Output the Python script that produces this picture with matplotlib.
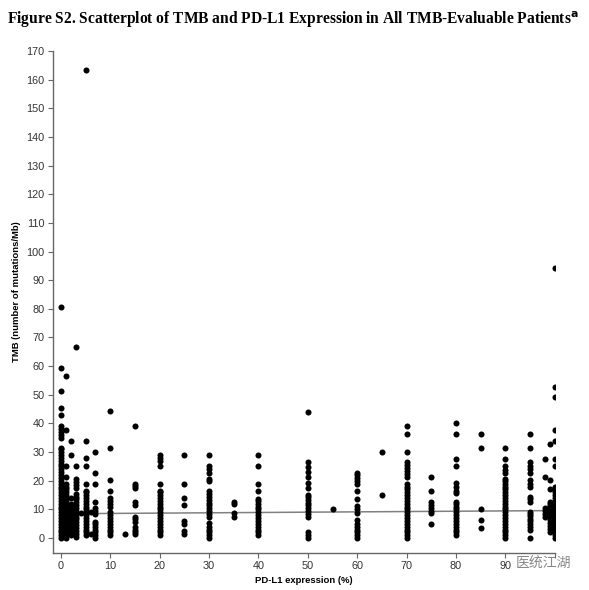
import matplotlib.pyplot as plt

# PD-L1 expression levels (%) that have patients
pdl1_levels = [0, 1, 2, 3, 4, 5, 6, 7, 10, 13, 15, 20, 25, 30, 35, 40, 50, 55,
               60, 65, 70, 75, 80, 85, 90, 95, 98, 99, 100]

# TMB values (mutations/Mb) read per PD-L1 level
tmb_values = [
    # 0
    [0, 1, 2, 3, 4, 5, 6, 7, 8, 9, 10, 11, 12, 13, 14, 15, 16, 17, 18, 19, 20,
     21, 22, 23, 24, 25, 26, 27, 28, 29, 30, 31, 31.6, 35, 36, 37, 38, 39,
     42.8, 45.3, 51.5, 59.2, 80.5],
    # 1
    [0, 1, 2, 3, 4, 5, 6, 7, 8, 9, 10, 11, 12, 13, 14, 15, 16, 17, 18, 19,
     21.3, 25.2, 37.7, 56.7],
    # 2
    [1, 2, 3, 4, 5, 6, 7, 8, 9, 10, 11, 12, 14, 29, 34],
    # 3
    [0.5, 1.5, 2.5, 3.5, 4.5, 5.5, 6.5, 7.5, 8.5, 9.5, 10.5, 11.5, 12.5, 13.5,
     14.5, 15.5, 17.5, 18.5, 19.5, 20.5, 25.3, 66.8],
    # 4
    [8.8],
    # 5
    [1, 2, 3, 4, 5, 6, 7, 8, 9, 10, 11, 12, 13, 14, 15, 16, 16.5, 19, 25.2,
     27.8, 34, 163.5],
    # 6
    [1.5, 9],
    # 7
    [0, 1, 2, 3, 4, 5, 5.5, 8.5, 9.5, 10.5, 12.7, 19, 22.7, 30.2],
    # 10
    [1, 2, 3, 4, 5, 6, 7, 8, 9, 11, 12, 13, 14, 16.5, 20.2, 31.5, 44.2],
    # 13
    [1.5],
    # 15
    [1.5, 2.2, 3, 4, 5.5, 6.5, 7.5, 11.5, 12.5, 17.5, 18.3, 19, 39],
    # 20
    [1, 2, 3, 4, 5, 6, 7, 8, 9, 10, 11, 12, 13, 14, 15, 16, 16.5, 19, 25.2,
     27, 28, 29],
    # 25
    [1.5, 2.5, 5, 6, 11.5, 14, 19, 29],
    # 30
    [0, 1, 2, 3, 4, 5.3, 7.4, 8.4, 9.4, 10.4, 11.4, 12.4, 13.4, 14.4, 15.4,
     16.4, 20, 20.7, 22.8, 24, 25, 29],
    # 35
    [7.4, 8.8, 11.9, 12.7],
    # 40
    [1, 2, 3, 4, 5, 6, 7, 8, 9, 10, 11, 12, 13, 13.8, 16.4, 18.8, 25.1, 29],
    # 50
    [0, 1, 2.2, 7.4, 8.4, 9.4, 10.4, 11.4, 12.4, 13.4, 14.2, 15, 17.6, 19.4,
     21.3, 23.1, 24.7, 26.5, 44],
    # 55
    [10.1],
    # 60
    [0, 1, 2, 3, 4, 5, 6.3, 8.8, 10, 11.2, 13.8, 16.4, 19, 20, 21, 22, 22.8],
    # 65
    [15, 30.2],
    # 70
    [0, 1, 2, 3, 4, 5, 6, 7, 8, 9, 10, 11, 12, 13, 14, 15, 16, 17, 18, 19,
     21.4, 22.5, 23.5, 24.5, 25.5, 26.6, 30.1, 36.5, 39.1],
    # 75
    [4.9, 8.6, 9.5, 10.5, 11.5, 12.7, 16.4, 21.4],
    # 80
    [1, 2, 3, 4, 5, 6, 7, 8, 9, 10, 11, 12, 12.7, 15.6, 16.6, 18, 19.1, 25.1,
     27.6, 36.5, 40.3],
    # 85
    [3.7, 6.3, 10, 31.3, 36.5],
    # 90
    [0, 1, 2, 3, 4, 5, 6, 7, 8, 9, 10, 11, 12, 13, 14, 15, 16, 17, 18, 19,
     20, 20.5, 22.6, 23.8, 25.1, 27.6, 31.3],
    # 95
    [0, 2.8, 3.8, 4.8, 5.8, 6.8, 7.8, 8.5, 9.2, 12.7, 13.5, 14.4, 17.9, 19,
     20.2, 22.6, 24, 25.3, 26.6, 31.3, 36.5],
    # 98
    [7.4, 8.4, 9.4, 10.4, 21.4, 27.6],
    # 99
    [2.2, 3.2, 4.2, 5.2, 6.2, 7.2, 8.2, 9.2, 10.2, 11.2, 12, 12.7, 17.3, 20.2,
     32.7],
    # 100
    [0, 1, 2, 3, 4, 5, 6, 7, 8, 9, 10, 11, 12, 13, 14, 15, 16, 17, 17.9,
     25.1, 27.6, 33.9, 37.7, 49.1, 52.8, 94.3],
]

# fitted line end points
fit_x = [0, 100]
fit_y = [8.5, 9.6]

x_ticks = [0, 10, 20, 30, 40, 50, 60, 70, 80, 90, 100]
# the 100 label is hidden under the watermark in the original
x_tick_labels = ['0', '10', '20', '30', '40', '50', '60', '70', '80', '90', '']
y_ticks = list(range(0, 171, 10))

# flatten into point pairs
xs = []
ys = []
for level, vals in zip(pdl1_levels, tmb_values):
    for v in vals:
        xs.append(level)
        ys.append(v)

fig = plt.figure(figsize=(5.89, 5.90), dpi=100)
ax = fig.add_axes([0.090, 0.0627, 0.852, 0.851])

ax.plot(fit_x, fit_y, color='#808080', linewidth=1.1, zorder=1)
ax.scatter(xs, ys, s=19, color='black', linewidths=0, zorder=2)

ax.set_xlim(-1.6, 100)
ax.set_ylim(-5.2, 170)
ax.set_xticks(x_ticks)
ax.set_xticklabels(x_tick_labels)
ax.set_yticks(y_ticks)

for side in ['top', 'right']:
    ax.spines[side].set_visible(False)
for side in ['left', 'bottom']:
    ax.spines[side].set_color('#666666')
    ax.spines[side].set_linewidth(1.0)

ax.tick_params(axis='both', direction='out', length=3.6, width=0.8,
               color='#666666', labelsize=7.8, labelcolor='#333333', pad=2.5)
for lab in ax.get_xticklabels() + ax.get_yticklabels():
    lab.set_family('Liberation Sans')

ax.set_xlabel('PD-L1 expression (%)', fontsize=6.8, fontweight='bold',
              family='Liberation Sans', labelpad=3)
ax.set_ylabel('TMB (number of mutations/Mb)', fontsize=6.8, fontweight='bold',
              family='Liberation Sans')
ax.yaxis.set_label_coords(-0.064, 0.521)

fig.text(0.012, 0.959,
         r'Figure S2. Scatterplot of TMB and PD-L1 Expression in All TMB-Evaluable Patients$^{\mathbf{a}}$',
         fontsize=11.2, fontweight='bold', family='Liberation Serif',
         va='baseline', ha='left')

# watermark in the lower right corner
fig.text(0.876, 0.046, '医统江湖', fontsize=10, color='#888888',
         family=['Noto Sans CJK SC', 'DejaVu Sans'], va='center', ha='left')

fig.savefig('out.png', dpi=100)
